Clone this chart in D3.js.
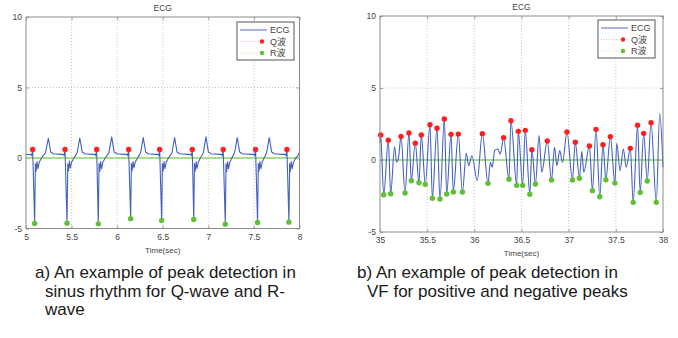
<!DOCTYPE html>
<html><head><meta charset="utf-8">
<script src="https://cdn.jsdelivr.net/npm/d3@7"></script>
<style>
html,body{margin:0;padding:0;background:#fff;}
svg{display:block;}
text{font-family:"Liberation Sans",Arial,sans-serif;}
</style></head>
<body>
<svg id="chart" width="678" height="338"></svg>
<script>
// ---------- DATA ----------
const xTicksA = [5, 5.5, 6, 6.5, 7, 7.5, 8];
const xTicksB = [35, 35.5, 36, 36.5, 37, 37.5, 38];
const yTicks = [-5, 0, 5, 10];
const yTickLabels = ["-5", "0", "5", "10"];
const legendLabels = ["ECG", "Q波", "R波"];
const titleText = "ECG";
const xAxisTitle = "Time(sec)";

// Panel a: sinus rhythm ECG (time, value)
const ecgA = [
 [5.000,0.26],[5.040,0.25],
 [5.055,0.27],[5.063,0.16],[5.073,0.58],[5.095,-4.64],[5.103,-0.4],[5.111,-0.95],[5.121,-0.25],[5.131,-0.75],[5.145,-0.3],[5.170,0.0],[5.195,0.22],[5.213,0.35],[5.245,1.40],[5.272,0.42],[5.300,0.30],[5.380,0.26],
 [5.410,0.27],[5.418,0.16],[5.428,0.58],[5.450,-4.62],[5.458,-0.42],[5.466,-0.92],[5.476,-0.22],[5.486,-0.72],[5.500,-0.3],[5.525,0.0],[5.548,0.22],[5.560,0.35],[5.590,1.42],[5.617,0.42],[5.645,0.30],[5.730,0.26],
 [5.757,0.27],[5.765,0.16],[5.775,0.58],[5.793,-4.67],[5.801,-0.4],[5.809,-0.95],[5.819,-0.25],[5.829,-0.78],[5.843,-0.3],[5.868,0.0],[5.893,0.22],[5.908,0.35],[5.940,1.50],[5.967,0.42],[5.995,0.30],[6.080,0.26],
 [6.108,0.27],[6.116,0.16],[6.126,0.58],[6.148,-4.30],[6.156,-0.4],[6.164,-0.9],[6.174,-0.25],[6.184,-0.7],[6.198,-0.3],[6.223,0.0],[6.245,0.22],[6.256,0.35],[6.286,1.45],[6.313,0.42],[6.340,0.30],[6.420,0.26],
 [6.448,0.27],[6.456,0.16],[6.466,0.58],[6.488,-4.43],[6.496,-0.4],[6.504,-0.93],[6.514,-0.25],[6.524,-0.75],[6.538,-0.3],[6.563,0.0],[6.586,0.22],[6.600,0.35],[6.630,1.45],[6.657,0.42],[6.685,0.30],[6.775,0.26],
 [6.806,0.27],[6.814,0.16],[6.824,0.58],[6.840,-4.36],[6.848,-0.4],[6.856,-0.93],[6.866,-0.25],[6.876,-0.75],[6.890,-0.3],[6.912,0.0],[6.930,0.2],[6.945,0.35],[6.974,1.50],[7.001,0.42],[7.030,0.30],[7.120,0.26],
 [7.145,0.27],[7.153,0.16],[7.163,0.58],[7.186,-4.69],[7.194,-0.4],[7.202,-0.95],[7.212,-0.25],[7.222,-0.75],[7.236,-0.3],[7.258,0.0],[7.275,0.22],[7.287,0.35],[7.317,1.45],[7.344,0.42],[7.372,0.30],[7.470,0.26],
 [7.500,0.27],[7.508,0.16],[7.518,0.58],[7.540,-4.57],[7.548,-0.4],[7.556,-0.93],[7.566,-0.25],[7.576,-0.75],[7.590,-0.3],[7.612,0.0],[7.628,0.22],[7.638,0.35],[7.668,1.45],[7.695,0.42],[7.722,0.30],[7.815,0.26],
 [7.844,0.27],[7.852,0.16],[7.862,0.58],[7.884,-4.55],[7.892,-0.4],[7.900,-0.93],[7.910,-0.25],[7.920,-0.75],[7.934,-0.3],[7.958,0.0],[7.980,0.15],[8.000,0.40]
];
const qA = [[5.073,0.6],[5.428,0.6],[5.775,0.6],[6.126,0.6],[6.466,0.6],[6.824,0.6],[7.163,0.6],[7.518,0.6],[7.862,0.6]];
const rA = [[5.095,-4.64],[5.450,-4.62],[5.793,-4.67],[6.148,-4.30],[6.488,-4.43],[6.840,-4.36],[7.186,-4.69],[7.540,-4.57],[7.884,-4.55]];

// Panel b: VF ECG (time, value)
const ecgB = [
 [35.000,1.2],[35.007,1.74],[35.039,-2.41],[35.088,1.37],[35.113,-2.34],[35.155,0.92],[35.176,-0.16],[35.197,0.19],
 [35.223,1.64],[35.265,-2.29],[35.307,1.87],[35.332,-1.44],[35.374,1.16],[35.413,-1.58],[35.438,1.74],[35.480,-1.69],
 [35.530,2.45],[35.555,-2.66],[35.604,2.20],[35.636,-2.71],[35.682,2.85],[35.707,-2.36],[35.753,1.78],[35.777,-2.22],
 [35.830,1.80],[35.873,-2.22],[35.915,0.46],[35.940,-0.40],[35.975,0.30],[36.030,-1.43],[36.085,1.83],[36.145,-1.62],
 [36.170,-0.16],[36.190,-0.50],[36.215,0.65],[36.250,0.76],[36.275,0.40],[36.310,1.55],[36.367,-1.34],[36.388,2.73],
 [36.449,-1.76],[36.466,1.99],[36.512,-1.76],[36.540,2.06],[36.588,-2.38],[36.610,0.72],[36.648,-1.67],[36.686,1.69],
 [36.715,-0.85],[36.773,1.32],[36.818,-1.39],[36.850,0.88],[36.875,-0.40],[36.905,0.65],[36.935,-0.16],[36.982,1.94],
 [37.040,-1.39],[37.070,1.23],[37.114,-1.27],[37.140,0.60],[37.160,-0.85],[37.220,0.97],[37.252,-2.13],[37.290,2.13],
 [37.330,-2.55],[37.364,1.06],[37.394,-1.37],[37.442,1.62],[37.490,-1.60],[37.510,1.16],[37.545,-0.74],[37.580,0.76],
 [37.610,-0.50],[37.654,0.81],[37.684,-2.94],[37.730,2.41],[37.758,-2.25],[37.795,1.85],[37.833,-1.46],[37.873,2.59],
 [37.929,-2.94],[37.965,3.25],[38.000,-0.5]
];
const qB = [[35.007,1.74],[35.088,1.37],[35.223,1.64],[35.307,1.87],[35.374,1.16],[35.438,1.74],[35.530,2.45],[35.604,2.20],
 [35.682,2.85],[35.753,1.78],[35.830,1.80],[36.085,1.83],[36.310,1.55],[36.388,2.73],[36.466,1.99],[36.540,2.06],
 [36.610,0.72],[36.773,1.32],[36.982,1.94],[37.070,1.23],[37.220,0.97],[37.290,2.13],[37.364,1.06],[37.442,1.62],
 [37.654,0.81],[37.730,2.41],[37.795,1.85],[37.873,2.59]];
const rB = [[35.039,-2.41],[35.113,-2.34],[35.265,-2.29],[35.332,-1.44],[35.413,-1.58],[35.480,-1.69],[35.555,-2.66],[35.636,-2.71],
 [35.707,-2.36],[35.777,-2.22],[35.873,-2.22],[36.145,-1.62],[36.367,-1.34],[36.449,-1.76],[36.512,-1.76],[36.588,-2.38],
 [36.648,-1.67],[36.818,-1.39],[37.040,-1.39],[37.114,-1.27],[37.252,-2.13],[37.330,-2.55],[37.394,-1.37],[37.490,-1.60],
 [37.684,-2.94],[37.758,-2.25],[37.833,-1.46],[37.929,-2.94]];
const threshold = [0];

const captionA = ["a) An example of peak detection in", "sinus rhythm for Q-wave and R-", "wave"];
const captionB = ["b) An example of peak detection in", "VF for positive and negative peaks"];

// ---------- DRAW ----------
const svg = d3.select("#chart");
const C = {line:"#4262c0", red:"#ff1f1f", green:"#5fc132", thr:"#8fd36a", grid:"#b8b8b8", frame:"#8c8c8c", text:"#444"};

function panel(o) {
  const x = d3.scaleLinear().domain(o.xDomain).range([o.x0, o.x1]);
  const y = d3.scaleLinear().domain([-5, 10]).range([o.y1, o.y0]);
  const g = svg.append("g");
  // grid
  g.selectAll(".gx").data(o.xTicks.slice(1, -1)).enter().append("line")
    .attr("x1", d => x(d)).attr("x2", d => x(d)).attr("y1", o.y0).attr("y2", o.y1)
    .attr("stroke", C.grid).attr("stroke-width", 0.8).attr("stroke-dasharray", "1,2");
  g.selectAll(".gy").data(yTicks.slice(1, -1)).enter().append("line")
    .attr("x1", o.x0).attr("x2", o.x1).attr("y1", d => y(d)).attr("y2", d => y(d))
    .attr("stroke", C.grid).attr("stroke-width", 0.8).attr("stroke-dasharray", "1,2");
  // axes
  const fmt = d => String(d);
  const xb = g.append("g").attr("transform", `translate(0,${o.y1})`)
    .call(d3.axisBottom(x).tickValues(o.xTicks).tickFormat(fmt).tickSizeInner(-3).tickSizeOuter(0).tickPadding(5));
  const xt = g.append("g").attr("transform", `translate(0,${o.y0})`)
    .call(d3.axisTop(x).tickValues(o.xTicks).tickFormat("").tickSizeInner(-3).tickSizeOuter(0));
  const yl = g.append("g").attr("transform", `translate(${o.x0},0)`)
    .call(d3.axisLeft(y).tickValues(yTicks).tickFormat((d, i) => yTickLabels[i]).tickSizeInner(-3).tickSizeOuter(0).tickPadding(4));
  const yr = g.append("g").attr("transform", `translate(${o.x1},0)`)
    .call(d3.axisRight(y).tickValues(yTicks).tickFormat("").tickSizeInner(-3).tickSizeOuter(0));
  [xb, xt, yl, yr].forEach(a => {
    a.select(".domain").remove();
    a.selectAll("line").attr("stroke", C.frame).attr("stroke-width", 0.8);
    a.selectAll("text").attr("fill", C.text).style("font-size", "8.5px")
      .style("font-family", '"Liberation Sans",Arial,sans-serif');
  });
  // threshold line
  g.selectAll(".thr").data(threshold).enter().append("line")
    .attr("x1", o.x0).attr("x2", o.x1).attr("y1", d => y(d)).attr("y2", d => y(d))
    .attr("stroke", C.thr).attr("stroke-width", 1.6);
  // ECG line
  const line = d3.line().x(d => x(d[0])).y(d => y(d[1])).curve(o.curve);
  g.append("path").datum(o.ecg).attr("d", line).attr("fill", "none")
    .attr("stroke", C.line).attr("stroke-width", 1.1).attr("stroke-linejoin", "round");
  // dots
  g.selectAll(".q").data(o.q).enter().append("circle")
    .attr("cx", d => x(d[0])).attr("cy", d => y(d[1])).attr("r", 2.7).attr("fill", C.red);
  g.selectAll(".r").data(o.r).enter().append("circle")
    .attr("cx", d => x(d[0])).attr("cy", d => y(d[1])).attr("r", 2.7).attr("fill", C.green);
  // frame
  g.append("rect").attr("x", o.x0).attr("y", o.y0).attr("width", o.x1 - o.x0).attr("height", o.y1 - o.y0)
    .attr("fill", "none").attr("stroke", C.frame).attr("stroke-width", 1);
  // title & x label
  g.append("text").attr("x", (o.x0 + o.x1) / 2).attr("y", o.y0 - 6).attr("text-anchor", "middle")
    .attr("fill", C.text).style("font-size", "8.5px").text(titleText);
  g.append("text").attr("x", (o.x0 + o.x1) / 2).attr("y", o.y1 + 24).attr("text-anchor", "middle")
    .attr("fill", C.text).style("font-size", "8px").text(xAxisTitle);
  // legend
  const lg = g.append("g").attr("transform", `translate(${o.legX},${o.legY})`);
  lg.append("rect").attr("width", 57).attr("height", 38).attr("fill", "#fff")
    .attr("stroke", "#555").attr("stroke-width", 1);
  const cols = [C.line, C.red, C.green];
  legendLabels.forEach((lab, i) => {
    const yy = 8 + i * 11.5;
    if (i === 0) {
      lg.append("line").attr("x1", 3).attr("x2", 30).attr("y1", yy).attr("y2", yy)
        .attr("stroke", "#93a3d8").attr("stroke-width", 1.6);
    } else {
      lg.append("line").attr("x1", 3).attr("x2", 25).attr("y1", yy).attr("y2", yy)
        .attr("stroke", cols[i]).attr("stroke-opacity", 0.45).attr("stroke-width", 0.8).attr("stroke-dasharray", "1,1.5");
      lg.append("circle").attr("cx", 25).attr("cy", yy).attr("r", 2.2).attr("fill", cols[i]);
    }
    lg.append("text").attr("x", 33).attr("y", yy + 3).attr("fill", C.text)
      .style("font-size", "9px")
      .style("font-family", '"Liberation Sans","Noto Sans CJK JP",sans-serif').text(lab);
  });
  // caption
  o.caption.forEach((t, i) => {
    svg.append("text").attr("x", i === 0 ? o.capX : o.capX + 10).attr("y", o.capY + i * 18.5)
      .attr("fill", "#1a1a1a").style("font-size", "17px").text(t);
  });
}

panel({xDomain:[5,8], xTicks:xTicksA, x0:26, x1:299.5, y0:17, y1:228.5, ecg:ecgA, q:qA, r:rA,
  curve:d3.curveLinear, legX:237, legY:22, caption:captionA, capX:35, capY:278});
panel({xDomain:[35,38], xTicks:xTicksB, x0:380, x1:663, y0:16, y1:232, ecg:ecgB, q:qB, r:rB,
  curve:d3.curveMonotoneX, legX:598, legY:20, caption:captionB, capX:357, capY:278});
</script>
</body></html>
